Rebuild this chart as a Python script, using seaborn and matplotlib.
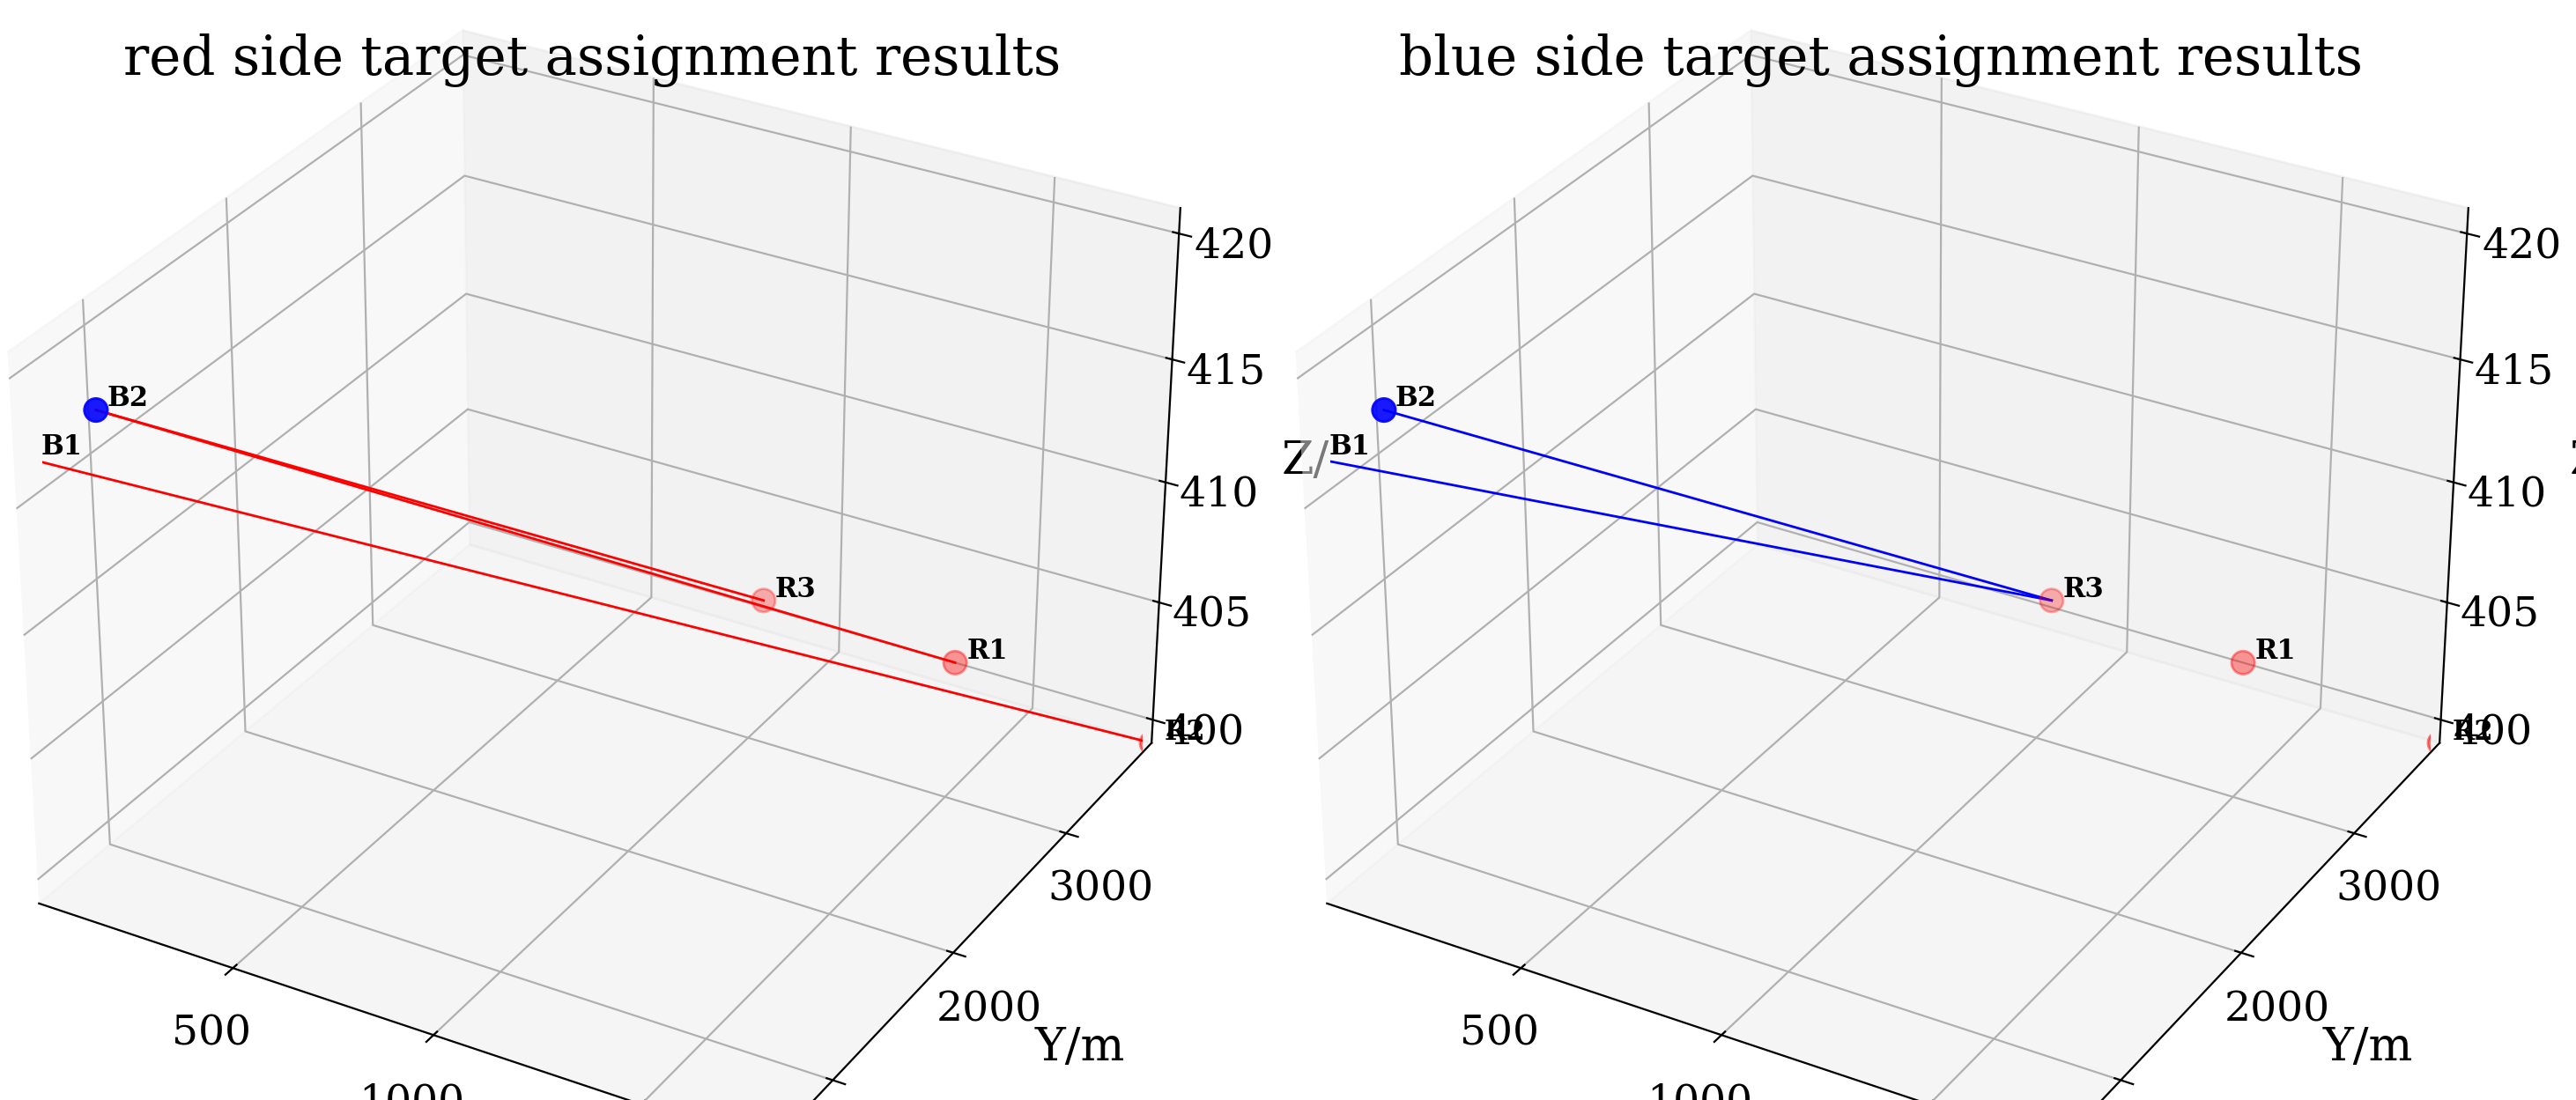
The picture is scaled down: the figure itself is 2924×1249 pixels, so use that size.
import numpy as np
import seaborn as sns
import matplotlib.pyplot as plt

sns.reset_orig()
plt.rcParams['font.family'] = ['DejaVu Serif']

names = ['B1', 'B2', 'R1', 'R2', 'R3']
xs = [0, 0, 1300, 1800, 800]
ys = [600, 1050, 3800, 3800, 3800]
zs = [416.5, 416.5, 400, 399, 400.3]
colors = ['blue', 'blue', 'red', 'red', 'red']

red_pairs = [('B1', 'R2'), ('B2', 'R1'), ('B2', 'R3')]
blue_pairs = [('B1', 'R3'), ('B2', 'R3')]

titles = ['red side target assignment results', 'blue side target assignment results']
pair_sets = [red_pairs, blue_pairs]
line_colors = ['red', 'blue']

fig = plt.figure(figsize=(14.62, 6.245), dpi=200)
idx = {n: i for i, n in enumerate(names)}

for k in range(2):
    ax = fig.add_axes([0.0 + 0.5 * k, -0.02, 0.46, 1.0], projection='3d')
    ax.set_box_aspect(None, zoom=1.18)
    ax.scatter(xs, ys, zs, c=colors, s=90)
    for a, b in pair_sets[k]:
        i, j = idx[a], idx[b]
        ax.plot([xs[i], xs[j]], [ys[i], ys[j]], [zs[i], zs[j]], color=line_colors[k], lw=1)
    for i, n in enumerate(names):
        ax.text(xs[i] + 30, ys[i], zs[i] + 0.3, n, fontsize=11, fontweight='bold')
    ax.set_xlim(0, 1800)
    ax.set_ylim(500, 3800)
    ax.set_zlim(399, 421)
    ax.set_xticks([500, 1000, 1500])
    ax.set_yticks([1000, 2000, 3000])
    ax.set_zticks([400, 405, 410, 415, 420])
    ax.tick_params(labelsize=17)
    ax.set_xlabel('X/m', fontsize=19, labelpad=14)
    ax.set_ylabel('Y/m', fontsize=19, labelpad=14)
    ax.set_zlabel('Z/m', fontsize=19, labelpad=14)
    ax.set_title(titles[k], fontsize=22, y=1.02)

plt.savefig('out.png', dpi=200)
